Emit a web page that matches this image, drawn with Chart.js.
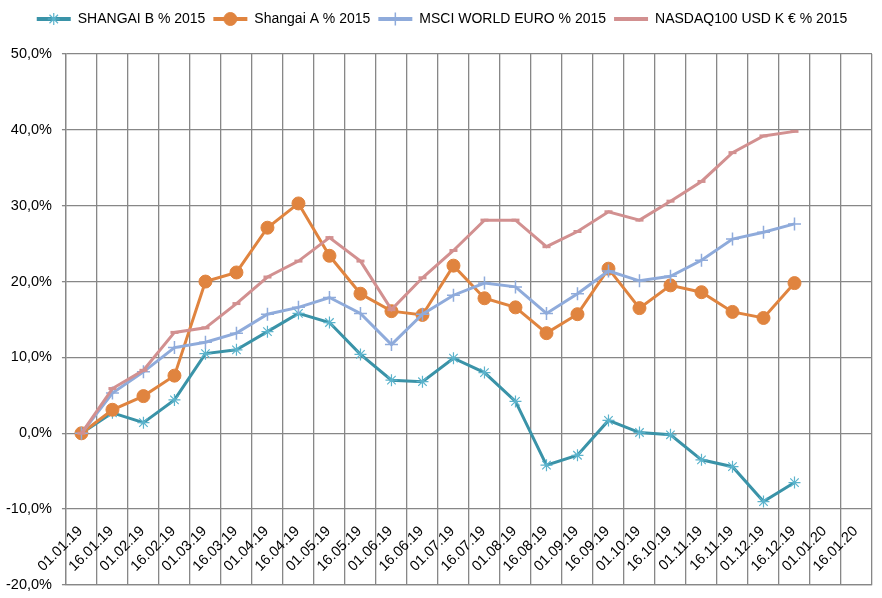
<!DOCTYPE html>
<html>
<head>
<meta charset="utf-8">
<title>Shangai / MSCI / NASDAQ 2019</title>
<script src="https://cdn.jsdelivr.net/npm/chart.js@4.4.0/dist/chart.umd.min.js"></script>
<style>
    html, body { margin: 0; padding: 0; background: #ffffff; }
    #wrap { width: 882px; height: 598px; }
</style>
</head>
<body>
<div id="wrap"><canvas id="chart" width="882" height="598"></canvas></div>
<script>
const dateLabels = [
    '01.01.19', '16.01.19', '01.02.19', '16.02.19', '01.03.19', '16.03.19',
    '01.04.19', '16.04.19', '01.05.19', '16.05.19', '01.06.19', '16.06.19',
    '01.07.19', '16.07.19', '01.08.19', '16.08.19', '01.09.19', '16.09.19',
    '01.10.19', '16.10.19', '01.11.19', '16.11.19', '01.12.19', '16.12.19',
    '01.01.20', '16.01.20'
];

const shangaiB = [0, 2.7, 1.4, 4.4, 10.5, 11.0, 13.4, 15.8, 14.6, 10.4, 7.0, 6.8,
    9.9, 8.0, 4.2, -4.2, -2.9, 1.7, 0.1, -0.2, -3.5, -4.4, -9.0, -6.5];
const shangaiA = [0, 3.1, 4.9, 7.6, 20.0, 21.2, 27.1, 30.3, 23.4, 18.4, 16.1, 15.6,
    22.1, 17.8, 16.6, 13.2, 15.7, 21.7, 16.5, 19.5, 18.6, 16.0, 15.2, 19.8];
const msciWorld = [0, 5.3, 8.1, 11.3, 12.0, 13.2, 15.7, 16.6, 17.9, 15.8, 11.7, 15.7,
    18.2, 19.8, 19.3, 15.8, 18.4, 21.4, 20.1, 20.7, 22.8, 25.6, 26.5, 27.6];
const nasdaq = [0, 5.9, 8.3, 13.3, 13.9, 17.1, 20.6, 22.7, 25.8, 22.7, 16.3, 20.5,
    24.1, 28.1, 28.1, 24.6, 26.6, 29.2, 28.1, 30.6, 33.2, 37.0, 39.2, 39.8];

const yTicks = { min: -20, max: 50, step: 10 };

const FONT = '"Liberation Sans", Arial, sans-serif';
const gridColor = '#878787';

// marker look for each series (also used in the legend)
const markers = [
    { pointStyle: 'star', radius: 6, stroke: '#5bb3cc', fill: '#5bb3cc', width: 1.2 },
    { pointStyle: 'circle', radius: 6.5, stroke: '#e0843f', fill: '#e0843f', width: 1 },
    { pointStyle: 'cross', radius: 6.5, stroke: '#8fabdb', fill: '#8fabdb', width: 1.5 },
    { pointStyle: 'line', radius: 4, stroke: '#d29090', fill: '#d29090', width: 3 }
];

function makeSeries(label, data, lineColor, m, order) {
    return {
        label: label,
        data: data,
        borderColor: lineColor,
        backgroundColor: lineColor,
        borderWidth: 3,
        tension: 0,
        order: order,
        pointStyle: m.pointStyle,
        pointRadius: m.radius,
        pointHoverRadius: m.radius,
        pointBorderColor: m.stroke,
        pointBackgroundColor: m.fill,
        pointBorderWidth: m.width
    };
}

// x labels sit inside the plot, between -10% and -20%
const xLabelPlugin = {
    id: 'xLabels',
    afterDraw(chart) {
        const ctx = chart.ctx;
        const xs = chart.scales.x;
        ctx.save();
        ctx.font = '14.5px ' + FONT;
        ctx.fillStyle = '#000000';
        ctx.textAlign = 'right';
        ctx.textBaseline = 'middle';
        dateLabels.forEach((lab, i) => {
            const x = xs.getPixelForTick(i);
            ctx.save();
            ctx.translate(x - 1, 529);
            ctx.rotate(-Math.PI / 4);
            ctx.fillText(lab, 0, 0);
            ctx.restore();
        });
        ctx.restore();
    }
};

// extra room under the legend, legend nudged right, marker drawn over each legend line
const legendPlugin = {
    id: 'legendExtras',
    beforeInit(chart) {
        const fit = chart.legend.fit;
        chart.legend.fit = function () {
            fit.bind(chart.legend)();
            this.height += 18;
        };
    },
    afterLayout(chart) {
        chart.legend.left += 8;
        chart.legend.right += 8;
    },
    afterDraw(chart) {
        const ctx = chart.ctx;
        const boxes = chart.legend.legendHitBoxes;
        const items = chart.legend.legendItems;
        ctx.save();
        items.forEach((item, i) => {
            const hb = boxes[i];
            const m = markers[item.datasetIndex];
            const cx = hb.left + 17;
            const cy = hb.top + hb.height / 2;
            ctx.strokeStyle = m.stroke;
            ctx.fillStyle = m.fill;
            ctx.lineWidth = m.width;
            Chart.helpers.drawPoint(ctx, { pointStyle: m.pointStyle, radius: m.radius, rotation: 0, borderWidth: m.width }, cx, cy);
        });
        ctx.restore();
    }
};

const ctx = document.getElementById('chart').getContext('2d');

new Chart(ctx, {
    type: 'line',
    data: {
        labels: dateLabels,
        datasets: [
            makeSeries('SHANGAI B % 2015', shangaiB, '#3a93a8', markers[0], 3),
            makeSeries('Shangai A % 2015', shangaiA, '#e0843f', markers[1], 2),
            makeSeries('MSCI WORLD EURO % 2015', msciWorld, '#8fabdb', markers[2], 1),
            makeSeries('NASDAQ100 USD K € % 2015', nasdaq, '#d29090', markers[3], 0)
        ]
    },
    options: {
        responsive: false,
        animation: false,
        layout: { padding: { left: -4, right: 10, top: 4, bottom: 0 } },
        scales: {
            x: {
                offset: true,
                grid: { offset: true, color: gridColor, lineWidth: 1.3, drawTicks: false },
                border: { color: gridColor, width: 1.3 },
                ticks: { display: false }
            },
            y: {
                min: yTicks.min,
                max: yTicks.max,
                grid: { color: gridColor, lineWidth: 1.3, tickLength: 4 },
                border: { color: gridColor, width: 1.3 },
                ticks: {
                    stepSize: yTicks.step,
                    padding: 10,
                    color: '#000000',
                    font: { family: FONT, size: 14.5 },
                    callback: v => v.toFixed(1).replace('.', ',') + '%'
                },
                afterFit(scale) {
                    scale.paddingTop = 10;
                    scale.paddingBottom = 13;
                }
            }
        },
        plugins: {
            tooltip: { enabled: false },
            legend: {
                position: 'top',
                labels: {
                    boxWidth: 34,
                    boxHeight: 4,
                    padding: 8,
                    color: '#000000',
                    font: { family: FONT, size: 14 },
                    sort: (a, b) => a.datasetIndex - b.datasetIndex,
                    generateLabels(chart) {
                        const list = Chart.defaults.plugins.legend.labels.generateLabels(chart);
                        list.forEach(it => { it.lineWidth = 0; it.strokeStyle = 'rgba(0,0,0,0)'; });
                        return list;
                    }
                }
            }
        }
    },
    plugins: [xLabelPlugin, legendPlugin]
});
</script>
</body>
</html>
